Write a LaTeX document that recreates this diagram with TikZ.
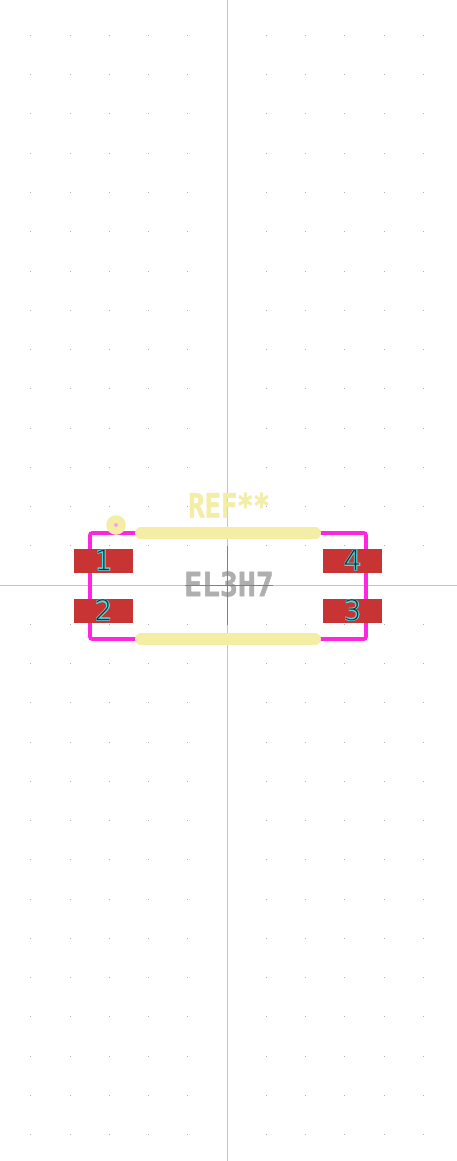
\documentclass[tikz,border=0pt]{standalone}
\usepackage{fontspec}
\newfontfamily\stroke[FakeBold=1.6]{DejaVu Sans Mono Bold}
\newfontfamily\padfont{DejaVu Sans ExtraLight}
\newfontfamily\padhalo[FakeBold=3]{DejaVu Sans}
\usetikzlibrary{positioning}
\definecolor{silk}{HTML}{F3EDA5}
\definecolor{courtyard}{HTML}{FF26E2}
\definecolor{copper}{HTML}{C83434}
\definecolor{fabtext}{HTML}{AFAFAF}
\definecolor{axis}{HTML}{C4C4C4}
\definecolor{anchorline}{HTML}{808080}
\definecolor{padtext}{HTML}{4DD9E0}
\newcommand{\padnum}[1]{\rlap{\padhalo\textcolor{padtext}{#1}}\textcolor{black!85}{#1}}
\tikzset{x=1pt,y=-1pt,
  griddot/.style={fill=black!30,minimum size=1pt,inner sep=0pt},
  silkline/.style={draw=silk,line width=12pt,line cap=round},
  padbox/.style={fill=copper,minimum width=59pt,minimum height=24pt,inner sep=0pt,
    font=\padfont\fontsize{28}{28}\selectfont,text height=20.4pt,text depth=2pt}}
\begin{document}
\begin{tikzpicture}
\useasboundingbox (0,0) rectangle (457,1161);
\fill[white] (0,0) rectangle (457,1161);
\foreach \i in {-5,...,5}
  \foreach \j in {-14,...,14}
    \node[griddot] (dot\i\j) at ({227+\i*39.25},{585+\j*39.25}) {};
\coordinate (axt) at (227.5,0);
\coordinate (axb) at (227.5,1161);
\coordinate (axl) at (0,585);
\coordinate (axr) at (457,585);
\draw[axis,line width=1pt] (axt) -- (axb);
\draw[axis,line width=1pt] (axl) -- (axr);
% courtyard
\draw[courtyard,line width=3.6pt,rounded corners=2pt] (90,533) rectangle (366,639);
% silkscreen
\coordinate (sta) at (141,533);
\coordinate (stb) at (315,533);
\coordinate (sba) at (141,639);
\coordinate (sbb) at (315,639);
\draw[silkline] (sta) -- (stb);
\draw[silkline] (sba) -- (sbb);
\fill[silk] (116,525) circle (9.8);
\fill[courtyard!45] (116,525) circle (2);
\node[text=silk,font=\stroke\fontsize{33}{33}\selectfont,xscale=.82] (ref) at (229,505) {REF**};
\node[text=fabtext,font=\stroke\fontsize{33}{33}\selectfont,xscale=.9] (val) at (229,584) {EL3H7};
% anchor cross
\coordinate (cxt) at (227.5,546);
\coordinate (cxb) at (227.5,625);
\coordinate (cxl) at (185,585);
\coordinate (cxr) at (273,585);
\draw[anchorline,line width=1pt] (cxt) -- (cxb);
\draw[anchorline,line width=1pt] (cxl) -- (cxr);
% pads
\node[padbox] (pad1) at (103.5,561) {\padnum{1}};
\node[padbox] (pad2) at (103.5,611) {\padnum{2}};
\node[padbox] (pad3) at (352.5,611) {\padnum{3}};
\node[padbox] (pad4) at (352.5,561) {\padnum{4}};
\end{tikzpicture}
\end{document}
